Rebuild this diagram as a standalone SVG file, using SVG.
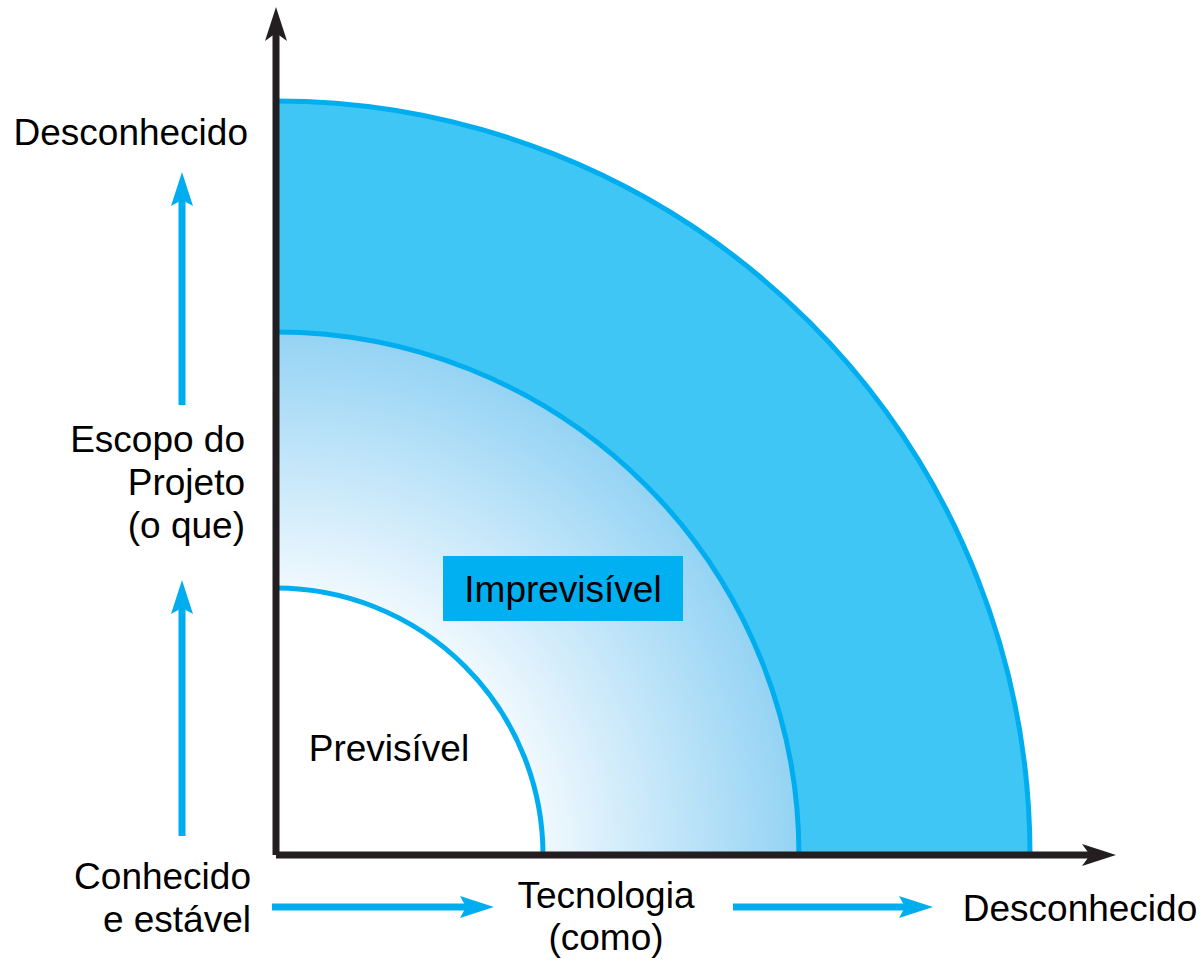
<svg xmlns="http://www.w3.org/2000/svg" width="1203" height="961" viewBox="0 0 1203 961">
<defs>
<radialGradient id="g" gradientUnits="userSpaceOnUse" cx="276" cy="855" r="523">
<stop offset="0.5" stop-color="#f2f9fe"/>
<stop offset="1" stop-color="#94d3f4"/>
</radialGradient>
<style>
text{font-family:"Liberation Sans",Arial,sans-serif;font-size:37px;fill:#000}
.arc{fill:none;stroke:#00aeef;stroke-width:5}
.ax{stroke:#231f20;stroke-width:7;fill:none}
.bl{stroke:#00aeef;stroke-width:7;fill:none}
.bh{fill:#00aeef}
</style>
</defs>
<rect width="1203" height="961" fill="#fff"/>
<g id="zona-desconhecida">
<path d="M276,101 A754,754 0 0 1 1030,855 L276,855 Z" fill="#3fc6f4"/>
<path class="arc" d="M276,101 A754,754 0 0 1 1030,855"/>
</g>
<g id="zona-imprevisivel">
<path d="M276,332 A523,523 0 0 1 799,855 L276,855 Z" fill="url(#g)"/>
<path class="arc" d="M276,332 A523,523 0 0 1 799,855"/>
<rect x="443" y="556" width="240" height="65" fill="#00b0f0"/>
<text x="563" y="602" text-anchor="middle">Imprevisível</text>
</g>
<g id="zona-previsivel">
<path d="M276,588 A267,267 0 0 1 543,855 L276,855 Z" fill="#fff"/>
<path class="arc" d="M276,588 A267,267 0 0 1 543,855"/>
<text x="389" y="761" text-anchor="middle">Previsível</text>
</g>
<g id="eixos">
<path class="ax" d="M276,855 L276,30 M276,855 L1095,855"/>
<path d="M276,7 L287,41 L276,33 L265,41 Z" fill="#231f20"/>
<path d="M1116,855 L1082,844 L1090,855 L1082,866 Z" fill="#231f20"/>
</g>
<g id="setas">
<path class="bl" d="M182,405 L182,195"/>
<path class="bh" d="M182,172 L193,206 L182,200 L171,206 Z"/>
<path class="bl" d="M182,836 L182,602"/>
<path class="bh" d="M182,580 L193,614 L182,608 L171,614 Z"/>
<path class="bl" d="M272,907 L472,907"/>
<path class="bh" d="M494,907 L460,896 L466,907 L460,918 Z"/>
<path class="bl" d="M733,907 L911,907"/>
<path class="bh" d="M933,907 L899,896 L905,907 L899,918 Z"/>
</g>
<g id="rotulos">
<text x="248" y="145" text-anchor="end">Desconhecido</text>
<text x="245" y="452" text-anchor="end">Escopo do</text>
<text x="245" y="495" text-anchor="end">Projeto</text>
<text x="245" y="538" text-anchor="end">(o que)</text>
<text x="251" y="889" text-anchor="end">Conhecido</text>
<text x="251" y="932" text-anchor="end">e estável</text>
<text x="606" y="908" text-anchor="middle">Tecnologia</text>
<text x="606" y="950" text-anchor="middle">(como)</text>
<text x="1080" y="921" text-anchor="middle">Desconhecido</text>
</g>
</svg>
